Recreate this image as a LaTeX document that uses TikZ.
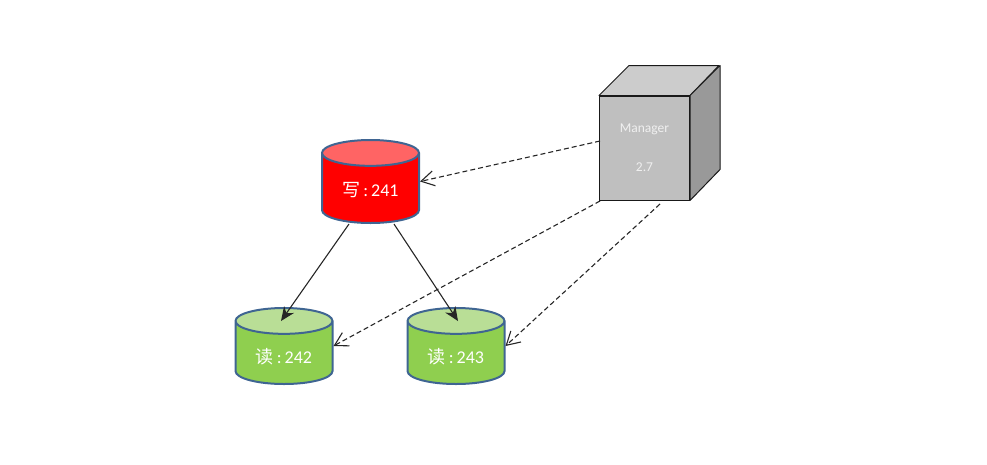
\documentclass[tikz,border=0pt]{standalone}
\usepackage{fontspec}
\setmainfont{Carlito}
\newfontfamily\cjk{Noto Sans CJK SC}
\usetikzlibrary{arrows.meta,shapes.geometric}
\definecolor{dbline}{HTML}{3F6592}
\definecolor{redtop}{HTML}{FF6464}
\definecolor{greenbody}{HTML}{8FCF4F}
\definecolor{greentop}{HTML}{B9DE96}
\tikzset{db/.style={
    shape=cylinder,shape border rotate=90,shape aspect=0.46,
    cylinder uses custom fill,anchor=shape center,
    minimum width=97pt,
    line width=2pt,draw=dbline,inner sep=0pt,
    text=white,font=\fontsize{18}{22}\selectfont}
}
\tikzset{dbred/.style={db,minimum height=83pt,text height=18pt,
    cylinder body fill=red,cylinder end fill=redtop}}
\tikzset{dbgreen/.style={db,minimum height=76pt,text height=23pt,
    cylinder body fill=greenbody,cylinder end fill=greentop}}
\tikzset{cubefront/.style={
    rectangle,minimum width=90pt,minimum height=104pt,
    fill=black!25,draw=black!90,line width=1pt,
    align=center,text=black!6,font=\fontsize{13.5}{16}\selectfont}
}
\tikzset{cubeface/.style={draw=black!90,line width=1pt,line join=round},
  sync/.style={-{Stealth[length=14pt,width=12pt]},line width=1.1pt,black!85},
  watch/.style={-{Straight Barb[length=13pt,width=20pt,angle'=60]},
    dash pattern=on 5pt off 3pt,line width=1.1pt,black!85},
}
\begin{document}
\begin{tikzpicture}[x=1pt,y=-1pt]
    \useasboundingbox (0,0) rectangle (987,464);
    % databases
    \node (w241) [dbred] at (370.5,181.5) {{\cjk 写}\,:\,241};
    \node (r242) [dbgreen] at (284,346) {{\cjk 读}\,:\,242};
    \node (r243) [dbgreen] at (456,346) {{\cjk 读}\,:\,243};
    % manager box
    \node (mgr) [cubefront] at (644.5,148) {Manager\\[23pt]2.7};
    \draw[cubeface,fill=black!20] (mgr.north west) -- ++(30,-30) -- ++(90,0)
      -- (mgr.north east) -- cycle;
    \draw[cubeface,fill=black!40] (mgr.north east) -- ++(30,-30) -- ++(0,104)
      -- (mgr.south east) -- cycle;
    % replication
    \coordinate (w241l) at (349,224);
    \coordinate (w241r) at (394,224);
    \coordinate (r242t) at (281,321);
    \coordinate (r243t) at (458,321);
    \draw[sync] (w241l) -- (r242t);
    \draw[sync] (w241r) -- (r243t);
    % monitoring
    \coordinate (mgrw) at (600,141);
    \coordinate (mgrs) at (600,201);
    \coordinate (mgrb) at (660,204);
    \draw[watch] (mgrw) -- (w241.east |- w241.shape center);
    \draw[watch] (mgrs) -- (r242.east |- r242.shape center);
    \draw[watch] (mgrb) -- (r243.east |- r243.shape center);
\end{tikzpicture}
\end{document}
